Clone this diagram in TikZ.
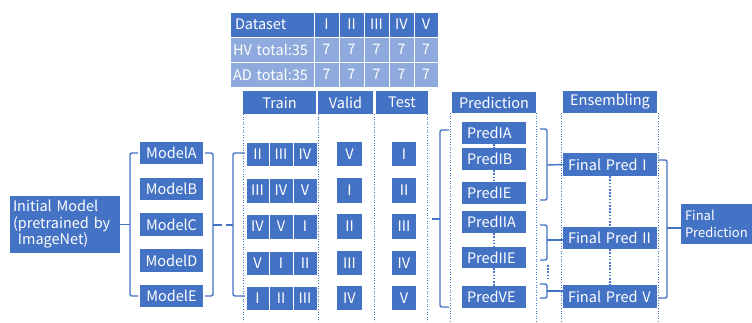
\documentclass[tikz,border=0pt]{standalone}
\usepackage{fontspec}
\setmainfont{Noto Sans CJK JP}
\definecolor{bd}{HTML}{4472C4}
\definecolor{bl}{HTML}{8FAADC}
\tikzset{
 box/.style={fill=bd, text=white, inner sep=0pt, font=\fontsize{14.5}{16.5}\selectfont},
 cell/.style={draw=white, line width=0.8pt},
 lcell/.style={draw=white, line width=0.8pt, fill=bl},
 lft/.style={text width=#1, align=left},
 brk/.style={draw=bd, line width=1.4pt, rounded corners=2pt},
 sep/.style={draw=bd, line width=0.6pt, dotted},
 dots/.style={draw=bd, line width=2pt, dash pattern=on 1.6pt off 1.6pt},
}
\newcommand{\mybox}[7][]{\node[box,minimum width={(#5)-(#3)},minimum height={(#6)-(#4)},#1] (#2) at ({((#3)+(#5))/2},{((#4)+(#6))/2}) {#7};}
\begin{document}
\begin{tikzpicture}[x=1pt,y=-1pt]
\useasboundingbox (0,0) rectangle (752,322);
% ---- dataset table
\mybox[cell,lft=74pt]{t00}{230}{12}{314}{37}{Dataset}
\mybox[cell]{t01}{314}{12}{339}{37}{I}
\mybox[cell]{t02}{339}{12}{364}{37}{II}
\mybox[cell]{t03}{364}{12}{389}{37}{III}
\mybox[cell]{t04}{389}{12}{414}{37}{IV}
\mybox[cell]{t05}{414}{12}{438}{37}{V}
\mybox[lcell,lft=78pt]{t10}{230}{37}{314}{62}{\mbox{HV total:35}}
\mybox[lcell]{t11}{314}{37}{339}{62}{7}
\mybox[lcell]{t12}{339}{37}{364}{62}{7}
\mybox[lcell]{t13}{364}{37}{389}{62}{7}
\mybox[lcell]{t14}{389}{37}{414}{62}{7}
\mybox[lcell]{t15}{414}{37}{438}{62}{7}
\mybox[lcell,lft=78pt]{t20}{230}{62}{314}{87}{\mbox{AD total:35}}
\mybox[lcell]{t21}{314}{62}{339}{87}{7}
\mybox[lcell]{t22}{339}{62}{364}{87}{7}
\mybox[lcell]{t23}{364}{62}{389}{87}{7}
\mybox[lcell]{t24}{389}{62}{414}{87}{7}
\mybox[lcell]{t25}{414}{62}{438}{87}{7}
% ---- column headers
\mybox{hTrain}{243}{91}{316}{114}{Train}
\mybox{hValid}{318}{91}{373}{114}{Valid}
\mybox{hTest}{376}{91}{428}{114}{Test}
\mybox{hPred}{452}{92}{536}{113}{Prediction}
\mybox{hEns}{563}{91}{657}{113}{Ensembling}
% ---- column separators
\coordinate (s1t) at (243,114); \coordinate (s1b) at (243,322);
\coordinate (s2t) at (318,114); \coordinate (s2b) at (318,322);
\coordinate (s3t) at (374,114); \coordinate (s3b) at (374,322);
\coordinate (s4t) at (427,114); \coordinate (s4b) at (427,322);
\coordinate (s5t) at (450,113); \coordinate (s5b) at (450,322);
\coordinate (s6t) at (536,113); \coordinate (s6b) at (536,322);
\coordinate (s7t) at (561,113); \coordinate (s7b) at (561,322);
\coordinate (s8t) at (658,113); \coordinate (s8b) at (658,322);
\foreach \i in {1,...,8} {\draw[sep] (s\i t) -- (s\i b);}
% ---- initial model and models
\mybox[lft=104pt]{init}{10}{196}{120}{253}{Initial Model\\(pretrained by\\\ ImageNet)}
\mybox{mA}{140}{142}{203}{164}{ModelA}
\mybox{mB}{140}{178}{203}{200}{ModelB}
\mybox{mC}{140}{213}{203}{236}{ModelC}
\mybox{mD}{140}{249}{203}{272}{ModelD}
\mybox{mE}{140}{285}{203}{307}{ModelE}
% ---- train / valid / test cells
\foreach \r/\ya/\yb/\a/\b/\c/\v/\t in {
  1/142/166/II/III/IV/V/I,
  2/178/203/III/IV/V/I/II,
  3/214/239/IV/V/I/II/III,
  4/251/275/V/I/II/III/IV,
  5/286/310/I/II/III/IV/V} {
  \mybox[cell]{tr\r a}{246}{\ya}{269}{\yb}{\a}
  \mybox[cell]{tr\r b}{269}{\ya}{293}{\yb}{\b}
  \mybox[cell]{tr\r c}{293}{\ya}{317}{\yb}{\c}
  \mybox{va\r}{337}{\ya}{362}{\yb}{\v}
  \mybox{te\r}{392}{\ya}{416}{\yb}{\t}
}
% ---- predictions
\mybox[lft=54pt]{pIA}{462}{122}{526}{144}{PredIA}
\mybox[lft=54pt]{pIB}{462}{148}{526}{170}{PredIB}
\mybox[lft=54pt]{pIE}{462}{182}{526}{204}{PredIE}
\mybox[lft=54pt]{pIIA}{462}{211}{526}{233}{PredIIA}
\mybox[lft=54pt]{pIIE}{462}{247}{526}{268}{PredIIE}
\mybox[lft=54pt]{pVE}{462}{286}{526}{308}{PredVE}
\draw[dots] (pIA.south) -- (pIB.north);
\draw[dots] (pIB.south) -- (pIE.north);
\draw[dots] (pIIA.south) -- (pIIE.north);
\draw[dots] (pIIE.south) -- (pVE.north);
% ---- ensembling
\mybox[lft=84pt]{fI}{563}{153}{657}{176}{Final Pred I}
\mybox[lft=84pt]{fII}{563}{227}{657}{249}{Final Pred II}
\mybox[lft=84pt]{fV}{563}{285}{657}{308}{Final Pred V}
\draw[dots] (fI.south) -- (fII.north);
\draw[dots] (fII.south) -- (fV.north);
\mybox[lft=63pt,font=\fontsize{13}{16.5}\selectfont]{final}{681}{204}{752}{244}{Final\\Prediction}
% ---- brackets
\draw[brk] (init.east) -- (130,224.5);
\draw[brk] (138,153) -- (130,153) -- (130,296) -- (138,296);
\draw[brk] (205,153) -- (213,153) -- (213,296) -- (205,296);
\draw[brk] (213,225) -- (222,225);
\draw[brk] (226,225) -- (233,225);
\draw[brk] (245,153) -- (233,153) -- (233,296) -- (245,296);
\draw[brk] (432,219) -- (440,219);
\draw[brk] (449,130) -- (440,130) -- (440,307) -- (449,307);
\draw[brk] (540,129) -- (547,129) -- (547,200) -- (540,200);
\draw[brk] (547,165) -- (fI.west);
\draw[brk] (540,225) -- (547,225) -- (547,260) -- (540,260);
\draw[brk] (547,240) -- (fII.west |- 0,240);
\draw[brk] (540,284) -- (547,284) -- (547,298) -- (540,298);
\draw[brk] (547,291) -- (fV.west |- 0,291);
\coordinate (d1) at (548,265); \coordinate (d2) at (548,279);
\draw[dots] (d1) -- (d2);
\draw[brk] (658,160) -- (667,160) -- (667,298) -- (658,298);
\draw[brk] (667,228) -- (final.west |- 0,228);
\end{tikzpicture}
\end{document}
